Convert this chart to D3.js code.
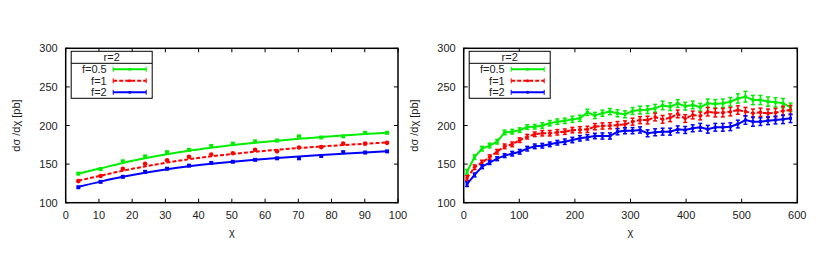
<!DOCTYPE html>
<html>
<head>
<meta charset="utf-8">
<script src="https://cdn.jsdelivr.net/npm/d3@7"></script>
<style>
  body { margin: 0; background: #fff; }
  svg text { font-family: "Liberation Sans", Arial, sans-serif; font-size: 11px; fill: #222; }
</style>
</head>
<body>
<svg id="chart" width="830" height="264"></svg>
<script>
// ---- data: left panel ----
const chiLeft = [3.8, 10.5, 17.2, 23.9, 30.5, 37.1, 43.8, 50.3, 57, 63.6, 70.2, 76.9, 83.5, 90.1, 96.7];
const leftF05 = [137.6, 143.6, 153.6, 160, 165.5, 168.5, 173.5, 176.5, 179.5, 180.5, 186, 184.5, 186, 190.5, 190.5];
const leftF1  = [128, 134.5, 144, 150.5, 155, 159.5, 162.5, 164, 168.5, 166.5, 171.5, 172, 176.5, 176.5, 177.5];
const leftF2  = [120, 127, 133.5, 140, 144, 148, 151.5, 153, 155.5, 157.5, 157.5, 160.5, 165.5, 165, 166.5];
// smooth curves drawn through the left panel (at the same chi)
const leftFitF05 = [137.6, 144.5, 151.5, 157.5, 162.8, 167.3, 171.2, 174.6, 177.6, 180.3, 182.8, 185, 187.1, 189, 190.7];
const leftFitF1  = [128.5, 135, 141.5, 147, 152, 156.3, 160, 163.2, 166, 168.5, 170.8, 172.8, 174.7, 176.4, 178];
const leftFitF2  = [120.5, 127.3, 133.5, 138.8, 143.3, 147.1, 150.4, 153.2, 155.7, 157.9, 159.9, 161.7, 163.4, 165, 166.5];

// ---- data: right panel ----
const chiRight = [6, 19.5, 33, 46.6, 60.1, 73.6, 87.2, 100.7, 114.2, 127.8, 141.3, 154.8, 168.4, 181.9,
  195.4, 209, 222.5, 236, 249.5, 263.1, 276.6, 290.1, 303.7, 317.2, 330.7, 344.3, 357.8, 371.3, 384.9,
  398.4, 411.9, 425.5, 439, 452.5, 466.1, 479.6, 493.1, 506.7, 520.2, 533.7, 547.3, 560.8, 574.3, 587.8];
const rightF05 = [140, 159, 170, 174, 179, 191, 192, 194, 198, 198.4, 200, 203, 205, 206, 208, 209.3,
  217, 213, 216, 218, 215.8, 214.5, 218.8, 220, 220.5, 222.3, 226, 224.4, 228.5, 225, 226.6, 223.6,
  228.8, 228, 228.8, 230.8, 235, 237.3, 233, 233, 231, 230, 229, 223.6];
const rightF1 = [132, 146, 152, 159, 166, 173, 175.6, 181, 185.5, 188.6, 190, 190, 191.2, 192, 194, 194.5,
  195, 198.5, 199.4, 199.7, 200.6, 201.5, 205, 207, 207, 211, 208, 210, 215, 209, 213.6, 212.3,
  217.9, 216.6, 216.6, 217.9, 220, 218, 215.8, 217, 215.8, 216.6, 219, 220];
const rightF2 = [124, 136, 146.6, 152, 157, 161, 163.5, 166, 170, 173, 173.8, 175.6, 177.7, 179, 181.2, 183.4,
  184.7, 186.4, 186.4, 186.4, 192, 193.3, 193.3, 194.2, 189.9, 191.2, 192, 192, 195, 194.2, 196.4, 197.7,
  195.1, 197.7, 197.7, 198.4, 201.9, 207.1, 205, 205, 206.2, 207.1, 208, 209.3];
// error bar half-widths
const errF05 = [3, 3, 3, 3, 3, 3, 3, 3, 3, 3, 3.5, 3.5, 3.5, 3.5, 4, 4, 4, 4, 4, 4, 4.5, 4.5, 4.5, 5,
  5, 5, 5.5, 5, 5, 5, 5, 5, 5.5, 5.5, 5.5, 5.5, 6, 7, 6, 6, 6, 6, 6, 5.5];
const errF1 = [3, 3, 3, 3, 3, 3, 3, 3, 3, 3, 3.5, 3.5, 3.5, 3.5, 3.5, 4, 4, 4, 4, 4, 4.5, 4.5, 4.5, 4.5,
  5, 5, 5, 5, 5, 5, 5, 5, 5.5, 5.5, 5.5, 5.5, 5.5, 5.5, 5.5, 5.5, 5.5, 5.5, 6, 6];
const errF2 = [3, 2.5, 2.5, 2.5, 2.5, 2.5, 3, 3, 3, 3, 3, 3, 3, 3.5, 3.5, 3.5, 3.5, 3.5, 4, 4, 4, 4, 4,
  4, 4.5, 4.5, 4.5, 4.5, 4.5, 4.5, 4.5, 5, 5, 5, 5, 5, 5, 5.5, 6, 5, 5, 5, 5.5, 5.5];

const yTicks = [100, 150, 200, 250, 300];
const xTicksLeft = [0, 10, 20, 30, 40, 50, 60, 70, 80, 90, 100];
const xTicksRight = [0, 100, 200, 300, 400, 500, 600];
const seriesNames = ["f=0.5", "f=1", "f=2"];
const legendTitle = "r=2";

const colors = ["#00ee00", "#ff0000", "#0000ff"];
const dashes = [null, "4,2", null];
const shapes = ["square", "circle", "square"];

const svg = d3.select("#chart");
const plotTop = 48.3, plotBottom = 202.7;

function drawPanel(x0, x1, xDomain, xTicks, xs, series, errs, fits) {
    const x = d3.scaleLinear().domain(xDomain).range([x0, x1]);
    const y = d3.scaleLinear().domain([100, 300]).range([plotBottom, plotTop]);
    const g = svg.append("g");

    series.forEach((vals, k) => {
        const pts = xs.map((c, i) => ({ x: c, y: vals[i], e: errs ? errs[k][i] : 0 }));
        // line: smooth curve if given, otherwise joins the points
        const linePts = fits ? xs.map((c, i) => ({ x: c, y: fits[k][i] })) : pts;
        g.append("path")
            .datum(linePts)
            .attr("fill", "none")
            .attr("stroke", colors[k])
            .attr("stroke-width", 2)
            .attr("stroke-dasharray", dashes[k])
            .attr("d", d3.line().curve(fits ? d3.curveMonotoneX : d3.curveLinear)
                .x(d => x(d.x)).y(d => y(d.y)));

        if (errs) {
            const eb = g.append("g").attr("stroke", colors[k]).attr("stroke-width", 1.5);
            pts.forEach(d => {
                eb.append("line").attr("x1", x(d.x)).attr("x2", x(d.x))
                    .attr("y1", y(d.y - d.e)).attr("y2", y(d.y + d.e));
                eb.append("line").attr("x1", x(d.x) - 2).attr("x2", x(d.x) + 2)
                    .attr("y1", y(d.y - d.e)).attr("y2", y(d.y - d.e));
                eb.append("line").attr("x1", x(d.x) - 2).attr("x2", x(d.x) + 2)
                    .attr("y1", y(d.y + d.e)).attr("y2", y(d.y + d.e));
            });
        }

        const sz = errs ? 3 : 4;
        if (shapes[k] === "square") {
            g.selectAll(null).data(pts).enter().append("rect")
                .attr("x", d => x(d.x) - sz / 2).attr("y", d => y(d.y) - sz / 2)
                .attr("width", sz).attr("height", sz).attr("fill", colors[k]);
        } else {
            g.selectAll(null).data(pts).enter().append("circle")
                .attr("cx", d => x(d.x)).attr("cy", d => y(d.y))
                .attr("r", sz / 2 + 0.3).attr("fill", colors[k]);
        }
    });

    // frame and ticks (gnuplot style: inward, mirrored)
    g.append("rect").attr("x", x0).attr("y", plotTop).attr("width", x1 - x0).attr("height", plotBottom - plotTop)
        .attr("fill", "none").attr("stroke", "#000").attr("stroke-width", 1.5);
    const tk = g.append("g").attr("stroke", "#000").attr("stroke-width", 1);
    xTicks.forEach(t => {
        tk.append("line").attr("x1", x(t)).attr("x2", x(t)).attr("y1", plotBottom).attr("y2", plotBottom - 4);
        tk.append("line").attr("x1", x(t)).attr("x2", x(t)).attr("y1", plotTop).attr("y2", plotTop + 4);
    });
    yTicks.forEach(t => {
        tk.append("line").attr("x1", x0).attr("x2", x0 + 4).attr("y1", y(t)).attr("y2", y(t));
        tk.append("line").attr("x1", x1).attr("x2", x1 - 4).attr("y1", y(t)).attr("y2", y(t));
    });

    g.selectAll(null).data(xTicks).enter().append("text")
        .attr("x", d => x(d)).attr("y", 219).attr("text-anchor", "middle").text(d => d);
    g.selectAll(null).data(yTicks).enter().append("text")
        .attr("x", x0 - 8).attr("y", d => y(d) + 4).attr("text-anchor", "end").text(d => d);

    g.append("text").attr("x", (x0 + x1) / 2).attr("y", 236).attr("text-anchor", "middle").text("χ");
    g.append("text")
        .attr("transform", `translate(${x0 - 46},${(plotTop + plotBottom) / 2}) rotate(-90)`)
        .attr("text-anchor", "middle").text("dσ /dχ [pb]");

    // legend
    const lx = x0 + 5.5, ly = 51.3, lw = 81, lh = 47;
    g.append("rect").attr("x", lx).attr("y", ly).attr("width", lw).attr("height", lh)
        .attr("fill", "#fff").attr("stroke", "#000").attr("stroke-width", 1);
    g.append("line").attr("x1", lx).attr("x2", lx + lw).attr("y1", ly + 12).attr("y2", ly + 12)
        .attr("stroke", "#000").attr("stroke-width", 1);
    g.append("text").attr("x", lx + lw / 2).attr("y", ly + 10).attr("text-anchor", "middle").text(legendTitle);
    seriesNames.forEach((name, k) => {
        const yy = ly + 18 + k * 11.5;
        g.append("text").attr("x", lx + 35.5).attr("y", yy + 4).attr("text-anchor", "end").text(name);
        const s = g.append("g").attr("stroke", colors[k]).attr("stroke-width", 2);
        s.append("line").attr("x1", lx + 42).attr("x2", lx + 75).attr("y1", yy).attr("y2", yy)
            .attr("stroke-dasharray", dashes[k]);
        s.append("line").attr("x1", lx + 42).attr("x2", lx + 42).attr("y1", yy - 2.5).attr("y2", yy + 2.5).attr("stroke-width", 1);
        s.append("line").attr("x1", lx + 75).attr("x2", lx + 75).attr("y1", yy - 2.5).attr("y2", yy + 2.5).attr("stroke-width", 1);
        s.append("circle").attr("cx", lx + 58.5).attr("cy", yy).attr("r", 1.5).attr("fill", colors[k]).attr("stroke", "none");
    });
}

drawPanel(65.7, 398, [0, 100], xTicksLeft, chiLeft, [leftF05, leftF1, leftF2], null,
    [leftFitF05, leftFitF1, leftFitF2]);
drawPanel(463.7, 797.3, [0, 600], xTicksRight, chiRight, [rightF05, rightF1, rightF2], [errF05, errF1, errF2], null);
</script>
</body>
</html>
